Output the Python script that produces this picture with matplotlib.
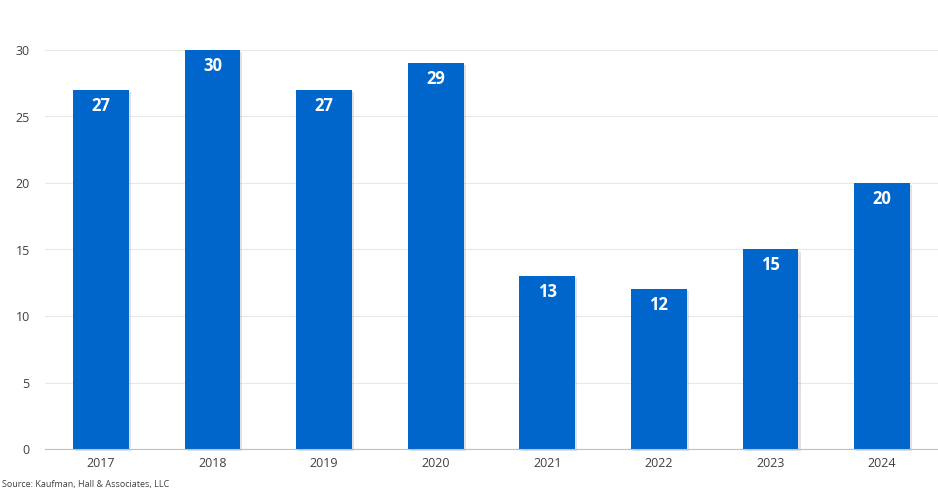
import matplotlib.pyplot as plt
import matplotlib.patheffects as pe

years = ["2017", "2018", "2019", "2020", "2021", "2022", "2023", "2024"]
counts = [27, 30, 27, 29, 13, 12, 15, 20]
yticks = [0, 5, 10, 15, 20, 25, 30]

plt.rcParams['font.family'] = ['Open Sans', 'DejaVu Sans']

fig = plt.figure(figsize=(9.38, 4.94), dpi=100)
ax = fig.add_axes([45/938, 45/494, 893/938, 399/494])

bars = ax.bar(range(len(years)), counts, width=0.5, color="#0066CC", zorder=3, clip_on=False)
for b in bars:
    b.set_path_effects([pe.SimplePatchShadow(offset=(1.5, -1.5), shadow_rgbFace="#aaaaaa", alpha=0.35), pe.Normal()])

for i, v in enumerate(counts):
    ax.annotate(str(v), (i, v), xytext=(0, -5), textcoords="offset points",
                ha="center", va="top", color="white", fontsize=12, fontweight="bold", zorder=4)

ax.set_xlim(-0.5, len(years) - 0.5)
ax.set_ylim(0, 30)
ax.set_yticks(yticks)
ax.set_xticks(range(len(years)))
ax.set_xticklabels(years)
ax.tick_params(length=0, labelsize=9, colors="#404040")
ax.tick_params(axis="y", pad=11)
ax.tick_params(axis="x", pad=6)
ax.grid(axis="y", color="#e8e8e8", linewidth=0.8, zorder=0)
for s in ["top", "right", "left"]:
    ax.spines[s].set_visible(False)
ax.spines["bottom"].set_color("#bfbfbf")
ax.spines["bottom"].set_zorder(5)

fig.text(0.002, 10/494, "Source: Kaufman, Hall & Associates, LLC", fontsize=6.5, color="#404040", va="center")

fig.savefig("out.png", dpi=100)
